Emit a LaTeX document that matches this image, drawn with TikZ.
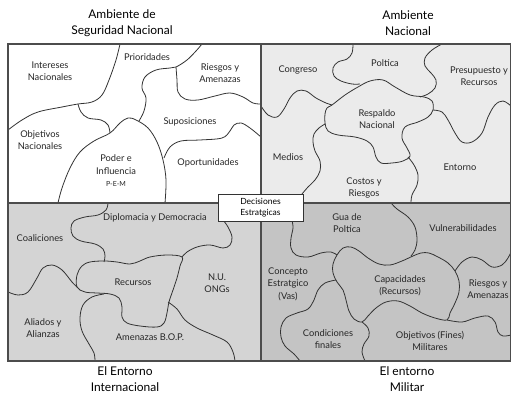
\documentclass[tikz,border=0pt]{standalone}
\usepackage{fontspec}
\setmainfont{Lato}
\usepackage{tikz}

\begin{document}
\begin{tikzpicture}[x=1pt, y=-1pt,
        lbl/.style={align=center, font=\fontsize{9.3}{12.5}\selectfont, text=black!85, inner sep=0pt},
        ttl/.style={align=center, font=\fontsize{12}{15.5}\selectfont, inner sep=0pt},
        edge/.style={black!80, line width=0.8pt},
        rim/.style={black!70, line width=1.4pt},
        decbox/.style={draw=black!80, line width=0.8pt, fill=white, align=center, font=\fontsize{8.5}{11.5}\selectfont, minimum width=85pt, minimum height=27pt, inner sep=0pt}]
        \useasboundingbox (0,0) rectangle (511,395);
        \fill[white] (8,44) rectangle (261,203);
        \fill[black!8] (261,44) rectangle (511,203);
        \fill[black!17] (8,203) rectangle (261,361);
        \fill[black!23] (261,203) rectangle (511,361);

        \draw[edge] plot[smooth, tension=0.6] coordinates {(120,44) (116,60) (109,80) (102,95) (92,102) (78,104) (62,107) (38,112) (22,120) (8,130)};
        \draw[edge] plot[smooth, tension=0.6] coordinates {(78,104) (81,112) (88,118) (101,120) (108,125) (110,133)};
        \draw[edge] plot[smooth, tension=0.6] coordinates {(58,203) (62,188) (70,168) (80,152) (94,141) (110,133) (120,123) (128,118) (136,120) (148,128) (157,142) (163,160) (166,180) (165,203)};
        \draw[edge] plot[smooth, tension=0.6] coordinates {(139,121) (144,111) (146,98) (142,88) (145,77) (156,70) (170,68) (176,67) (187,60) (196,51) (202,44)};
        \draw[edge] plot[smooth, tension=0.6] coordinates {(176,67) (177,80) (178,92) (185,99) (198,100) (215,96) (230,93) (243,97) (253,103) (261,104)};
        \draw[edge] plot[smooth, tension=0.6] coordinates {(164,158) (170,147) (181,141) (200,140) (222,138) (230,131) (234,125) (241,123) (250,128) (261,137)};

        \draw[edge] plot[smooth, tension=0.6] coordinates {(261,106) (268,115) (277,117) (284,109) (290,98) (297,91) (306,91) (316,98) (326,103) (332,105)};
        \draw[edge] plot[smooth, tension=0.6] coordinates {(353,44) (352,53) (347,59) (338,62) (333,68) (334,76) (341,81) (352,84) (360,84)};
        \draw[edge] plot[smooth cycle, tension=0.6] coordinates {(332,105) (345,95) (358,87) (370,81) (383,80) (395,87) (410,95) (424,97) (432,101) (433,110) (428,117) (418,122) (405,127) (402,138) (407,148) (410,156) (403,161) (392,163) (381,163) (376,157) (373,147) (367,141) (355,137) (338,135) (328,131) (325,123) (325,114) (327,108)};
        \draw[edge] plot[smooth, tension=0.6] coordinates {(325,124) (319,128) (314,134) (313,142) (315,151) (320,161) (320,171) (315,180) (308,187) (302,194)};
        \draw[edge] plot[smooth, tension=0.6] coordinates {(408,157) (414,165) (418,175) (417,185) (412,195) (411,203)};
        \draw[edge] plot[smooth, tension=0.6] coordinates {(442,44) (432,50) (425,58) (425,66) (431,73) (436,80) (435,88) (428,94) (420,97)};
        \draw[edge] plot[smooth, tension=0.6] coordinates {(433,110) (442,112) (448,120) (455,133) (462,142) (472,142) (482,133) (488,117) (495,105) (503,101) (511,106)};

        \draw[edge] plot[smooth, tension=0.6] coordinates {(108,203) (106,210) (98,215) (85,217) (74,221) (71,228) (73,236) (81,241) (95,244) (103,249) (105,256) (104,262)};
        \draw[edge] plot[smooth cycle, tension=0.6] coordinates {(182,257) (167,255) (150,257) (140,261) (130,264) (117,262) (104,261) (90,262) (82,266) (77,275) (77,287) (85,292) (97,293) (110,294) (119,298) (122,307) (122,317) (127,323) (140,326) (157,327) (164,323) (167,313) (169,302) (173,290) (177,278) (180,266)};
        \draw[edge] plot[smooth, tension=0.6] coordinates {(223,220) (228,227) (232,237) (230,245) (223,248) (210,245) (197,247) (187,252) (182,257)};
        \draw[edge] plot[smooth, tension=0.6] coordinates {(168,302) (177,309) (185,320) (197,328) (213,335) (227,342) (233,352) (235,361)};
        \draw[edge] plot[smooth, tension=0.6] coordinates {(8,292) (18,295) (28,292) (37,278) (43,268) (52,265) (62,270) (72,282) (77,287)};
        \draw[edge] plot[smooth, tension=0.6] coordinates {(104,294) (92,297) (83,305) (80,318) (82,331) (89,344) (94,353) (95,361)};

        \draw[edge] plot[smooth, tension=0.6] coordinates {(292,220) (293,228) (291,238) (291,248) (296,255) (308,257) (321,253) (331,252) (337,255)};
        \draw[edge] plot[smooth, tension=0.6] coordinates {(391,203) (397,209) (408,217) (415,227) (417,240) (415,250) (411,256)};
        \draw[edge] plot[smooth cycle, tension=0.6] coordinates {(337,255) (343,248) (351,247) (359,251) (368,258) (379,264) (390,265) (402,261) (413,256) (421,253) (429,253) (438,257) (448,263) (455,271) (459,281) (459,292) (455,303) (450,313) (447,320) (435,318) (422,313) (410,306) (398,301) (386,302) (376,308) (368,316) (362,322) (354,319) (349,311) (346,300) (343,290) (337,282) (333,273) (333,264)};
        \draw[edge] plot[smooth, tension=0.6] coordinates {(455,271) (462,262) (472,257) (482,260) (492,267) (502,265) (508,258) (511,252)};
        \draw[edge] plot[smooth, tension=0.6] coordinates {(447,320) (462,322) (475,318) (488,316) (495,322) (498,332) (503,336) (511,335)};
        \draw[edge] plot[smooth, tension=0.6] coordinates {(362,322) (368,328) (369,336) (364,344) (362,352) (365,361)};
        \draw[edge] plot[smooth, tension=0.6] coordinates {(336,280) (325,283) (318,290) (314,300) (308,309) (297,313) (286,318) (281,327) (281,337) (285,346) (294,354) (300,361)};

        \draw[rim] (8,44) rectangle (511,361);
        \draw[rim] (261,44) -- (261,361);
        \draw[rim] (8,203) -- (511,203);

        \node[decbox] (decisiones) at (260.5,207.5) {Decisiones\\Estratgicas};

        \node[ttl] (tsegnac) at (122,23) {Ambiente de\\Seguridad Nacional};
        \node[ttl] (tambnac) at (408,23) {Ambiente\\Nacional};
        \node[ttl] (tentint) at (125,379) {El Entorno\\Internacional};
        \node[ttl] (tentmil) at (407,379) {El entorno\\Militar};

        \node[lbl] (intereses) at (50,71) {Intereses\\Nacionales};
        \node[lbl] (prioridades) at (147,57) {Prioridades};
        \node[lbl] (riesgosamen) at (220,73) {Riesgos y\\Amenazas};
        \node[lbl] (objnac) at (40,140) {Objetivos\\Nacionales};
        \node[lbl] (suposiciones) at (190,122) {Suposiciones};
        \node[lbl] (poder) at (116,171) {Poder e\\Influencia\\{\fontsize{7}{9}\selectfont P-E-M}};
        \node[lbl] (oportunidades) at (208,163) {Oportunidades};

        \node[lbl] (congreso) at (298,70) {Congreso};
        \node[lbl] (politica) at (385,63) {Poltica};
        \node[lbl] (presupuesto) at (479,76) {Presupuesto y\\Recursos};
        \node[lbl] (respaldo) at (377,119) {Respaldo\\Nacional};
        \node[lbl] (medios) at (288,157) {Medios};
        \node[lbl] (costos) at (364,188) {Costos y\\Riesgos};
        \node[lbl] (entorno) at (460,167) {Entorno};

        \node[lbl] (coaliciones) at (40,238) {Coaliciones};
        \node[lbl] (diplomacia) at (155,218) {Diplomacia y Democracia};
        \node[lbl] (recursos) at (133,282) {Recursos};
        \node[lbl] (onu) at (217,283) {N.U.\\ONGs};
        \node[lbl] (aliados) at (43,328) {Aliados y\\Alianzas};
        \node[lbl] (amenbop) at (150,337) {Amenazas B.O.P.};

        \node[lbl] (guia) at (347,223) {Gua de\\Poltica};
        \node[lbl] (vulnera) at (463,228) {Vulnerabilidades};
        \node[lbl] (concepto) at (288,284) {Concepto\\Estratgico\\(Vas)};
        \node[lbl] (capacidades) at (400,286) {Capacidades\\(Recursos)};
        \node[lbl] (riesgosmil) at (488,289) {Riesgos y\\Amenazas};
        \node[lbl] (condiciones) at (328,339) {Condiciones\\finales};
        \node[lbl] (objfines) at (430,341) {Objetivos (Fines)\\Militares};
    \end{tikzpicture}
\end{document}
